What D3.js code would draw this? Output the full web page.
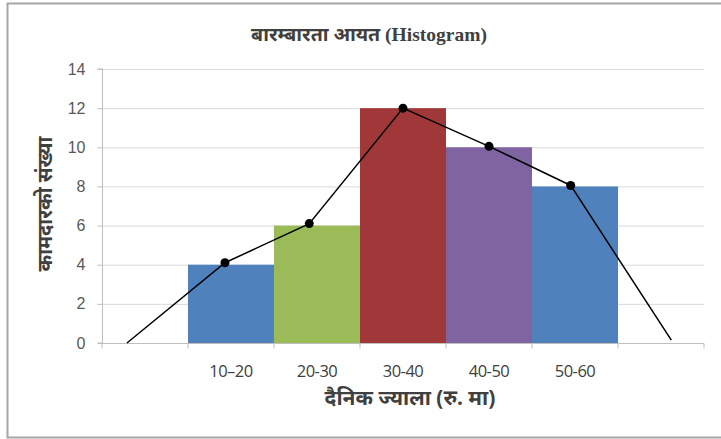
<!DOCTYPE html>
<html><head><meta charset="utf-8">
<script src="https://cdn.jsdelivr.net/npm/d3@7"></script>
<style>body{margin:0;background:#fff}svg{display:block}</style>
</head><body>
<svg id="c" width="721" height="439"></svg>
<script>
const categories = ["", "10–20", "20-30", "30-40", "40-50", "50-60", ""];
const barCategories = ["10–20", "20-30", "30-40", "40-50", "50-60"];
const frequencies = [4, 6, 12, 10, 8];
const barColors = ["#4F81BD", "#9BBB59", "#A0383A", "#8064A2", "#4F81BD"];
// frequency polygon points (x in class-value units, 0..70)
const polyX = [2.9, 14.3, 24.1, 35.0, 45.0, 54.5, 66.2];
const polyY = [0, 4.1, 6.1, 12, 10.05, 8.05, 0.15];
const yTicks = [0, 2, 4, 6, 8, 10, 12, 14];
const titleText = "बारम्बारता आयत (Histogram)";
const xTitle = "दैनिक ज्याला (रु. मा)";
const yTitle = "कामदारको संख्या";

const svg = d3.select("#c");
const L = 102, R = 704, T = 69, B = 343;

// chart border
svg.append("path").attr("d", `M730,3.5 H7.5 V437.5 H730`).attr("fill","none")
  .attr("stroke","#a6a6a6").attr("stroke-width",2);

const x = d3.scaleBand().domain(categories.map((c,i)=>i)).range([L,R]).paddingInner(0).paddingOuter(0);
const xv = d3.scaleLinear().domain([0,70]).range([L,R]);
const y = d3.scaleLinear().domain([0,14]).range([B,T]);

// gridlines
svg.append("g").selectAll("line").data(yTicks).join("line")
  .attr("x1", L).attr("x2", R).attr("y1", d=>y(d)+0.5).attr("y2", d=>y(d)+0.5)
  .attr("stroke","#d9d9d9").attr("stroke-width",1);

// bars
svg.append("g").selectAll("rect").data(frequencies).join("rect")
  .attr("x", (d,i)=>x(i+1)).attr("width", x.bandwidth())
  .attr("y", d=>y(d)).attr("height", d=>B - y(d))
  .attr("fill", (d,i)=>barColors[i]);

// y axis
const ya = svg.append("g").attr("transform",`translate(${L+0.5},0)`)
  .call(d3.axisLeft(y).tickValues(yTicks).tickSize(5).tickPadding(12));
ya.select(".domain").attr("stroke","#bfbfbf").attr("d",`M-5,${y(14)}H0V${B}H-5`);
ya.selectAll(".tick line").attr("stroke","#bfbfbf");
ya.selectAll("text").attr("font-family","Liberation Sans, Arial, sans-serif").attr("font-size",16).attr("fill","#595959");

// x axis
const xa = svg.append("g").attr("transform",`translate(0,${B+0.5})`);
xa.append("line").attr("x1",L).attr("x2",R).attr("stroke","#bfbfbf");
xa.selectAll("line.t").data(d3.range(categories.length+1)).join("line").attr("class","t")
  .attr("x1", i=>L + i*x.step()).attr("x2", i=>L + i*x.step()).attr("y1",0).attr("y2",5)
  .attr("stroke","#bfbfbf");
xa.selectAll("text").data(categories).join("text")
  .attr("x",(d,i)=>x(i)+x.bandwidth()/2).attr("y",33)
  .attr("text-anchor","middle").attr("font-family","Open Sans, Liberation Sans, sans-serif")
  .attr("font-size",16.5).attr("letter-spacing","-0.5").attr("fill","#404040").text(d=>d);

// frequency polygon
const pts = polyX.map((v,i)=>[xv(v), y(polyY[i])]);
svg.append("path").attr("d", d3.line()(pts)).attr("fill","none").attr("stroke","#000").attr("stroke-width",1.5);
svg.append("g").selectAll("circle").data(pts.slice(1,6)).join("circle")
  .attr("cx",d=>d[0]).attr("cy",d=>d[1]).attr("r",4.5).attr("fill","#000");

// titles
svg.append("text").attr("x",369).attr("y",41).attr("text-anchor","middle")
  .attr("font-family","Liberation Serif, Noto Sans, serif").attr("font-weight","bold")
  .attr("font-size",19.5).attr("fill","#404040").text(titleText);
svg.append("text").attr("x",410).attr("y",405).attr("text-anchor","middle")
  .attr("font-family","Noto Sans, sans-serif").attr("font-weight","bold")
  .attr("font-size",21).attr("fill","#404040").text(xTitle);
svg.append("text").attr("transform","translate(52,204) rotate(-90)").attr("text-anchor","middle")
  .attr("font-family","Noto Sans, sans-serif").attr("font-weight","bold")
  .attr("font-size",20).attr("fill","#404040").text(yTitle);
</script>
</body></html>
